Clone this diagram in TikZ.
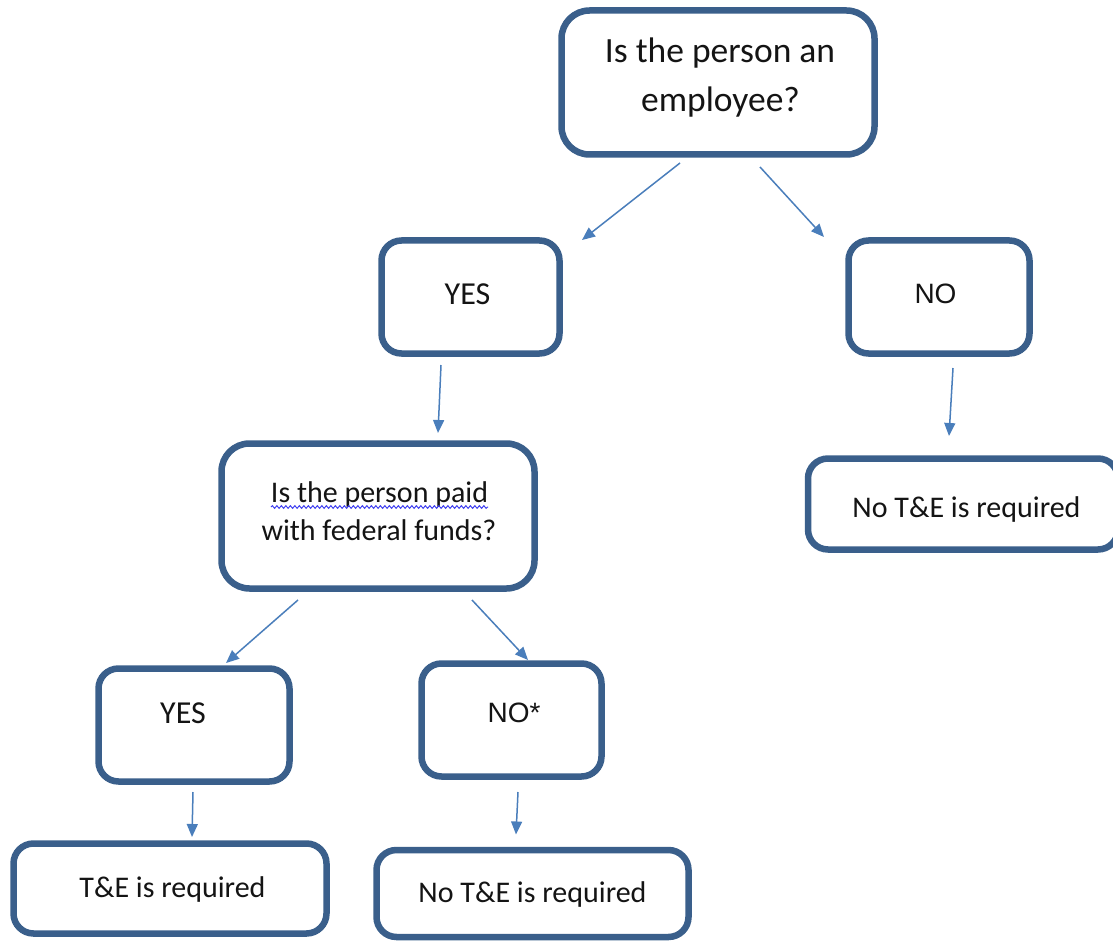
\documentclass[tikz,border=0pt]{standalone}
\usepackage{fontspec}
\setmainfont{Carlito}
\newfontfamily\calf{Carlito}
\newfontfamily\arif{Liberation Sans}
\usetikzlibrary{arrows.meta,calc,decorations.pathmorphing}
\definecolor{boxblue}{RGB}{58,95,139}
\definecolor{arrowblue}{RGB}{74,126,187}
\definecolor{spellblue}{RGB}{60,60,240}
\tikzset{
  box/.style={draw=boxblue, line width=6.5pt, fill=white, rectangle, rounded corners=20pt, inner sep=0pt, outer sep=0pt},
  bigbox/.style={box, rounded corners=28pt},
  txt/.style={inner sep=0pt, outer sep=0pt, anchor=base, text=black!92},
  bigfont/.style={font=\calf\fontsize{35.5}{42}\selectfont},
  midfont/.style={font=\calf\fontsize{30}{36}\selectfont},
  yesfont/.style={font=\calf\fontsize{32}{38}\selectfont},
  nofont/.style={font=\arif\fontsize{28}{34}\selectfont},
  conn/.style={draw=arrowblue, line width=1.5pt, -{Triangle[length=13pt,width=11pt]}}
}
\begin{document}
\begin{tikzpicture}[x=1pt,y=-1pt]
\useasboundingbox (0,0) rectangle (1113,941);
% boxes
\node[bigbox, minimum width=313pt, minimum height=144pt] (q1) at (718,82.5) {};
\node[box, minimum width=178pt, minimum height=113pt] (y1) at (470.5,297) {};
\node[box, minimum width=181pt, minimum height=113pt] (n1) at (939,297) {};
\node[bigbox, minimum width=313pt, minimum height=145pt] (q2) at (378,516) {};
\node[box, minimum width=310pt, minimum height=91pt] (r1) at (963,504) {};
\node[box, minimum width=191pt, minimum height=113pt] (y2) at (194,725) {};
\node[box, minimum width=180pt, minimum height=113pt] (n2) at (511.5,720) {};
\node[box, minimum width=313pt, minimum height=90pt] (r2) at (170,888.5) {};
\node[box, minimum width=312pt, minimum height=87pt] (r3) at (532.5,893.5) {};
% texts
\node[txt, bigfont] (q1a) at (720,63) {Is the person an};
\node[txt, bigfont] (q1b) at (720.5,112) {employee?};
\node[txt, yesfont] (y1t) at (467.5,304) {YES};
\node[txt, nofont] (n1t) at (935.5,303) {NO};
\node[txt, midfont] (q2a) at (379.5,502) {Is the person paid};
\node[txt, midfont] (q2b) at (379,540) {with federal funds?};
\node[txt, midfont] (r1t) at (966.5,517) {No T\&E is required};
\node[txt, yesfont] (y2t) at (183,723) {YES};
\node[txt, nofont] (n2t) at (514,722) {NO*};
\node[txt, midfont] (r2t) at (172.5,897) {T\&E is required};
\node[txt, midfont] (r3t) at (532.5,902) {No T\&E is required};
% spell-check underline
\draw[spellblue, line width=1pt, decorate, decoration={snake, amplitude=1.3pt, segment length=4.5pt}]
  ($(q2a.base west)+(0,5)$) -- ($(q2a.base east)+(0,5)$);
% connectors
\draw[conn] ($(q1.south)+(-38,8.5)$) -- ($(y1.north)+(111.5,-0.5)$);
\draw[conn] ($(q1.south)+(42,12.5)$) -- ($(n1.north)+(-115,-3.5)$);
\draw[conn] ($(y1.south)+(-29.5,11.5)$) -- ($(q2.north)+(60,-10.5)$);
\draw[conn] ($(n1.south)+(14,14.5)$) -- ($(r1.north)+(-14,-22.5)$);
\draw[conn] ($(q2.south)+(-80,11.5)$) -- ($(y2.north)+(32,-5.5)$);
\draw[conn] ($(q2.south)+(94,11.5)$) -- ($(n2.north)+(16.5,-3.5)$);
\draw[conn] ($(y2.south)+(-1,10.5)$) -- ($(r2.north)+(22,-6.5)$);
\draw[conn] ($(n2.south)+(6.5,15.5)$) -- ($(r3.north)+(-16.5,-15.5)$);
\end{tikzpicture}
\end{document}
